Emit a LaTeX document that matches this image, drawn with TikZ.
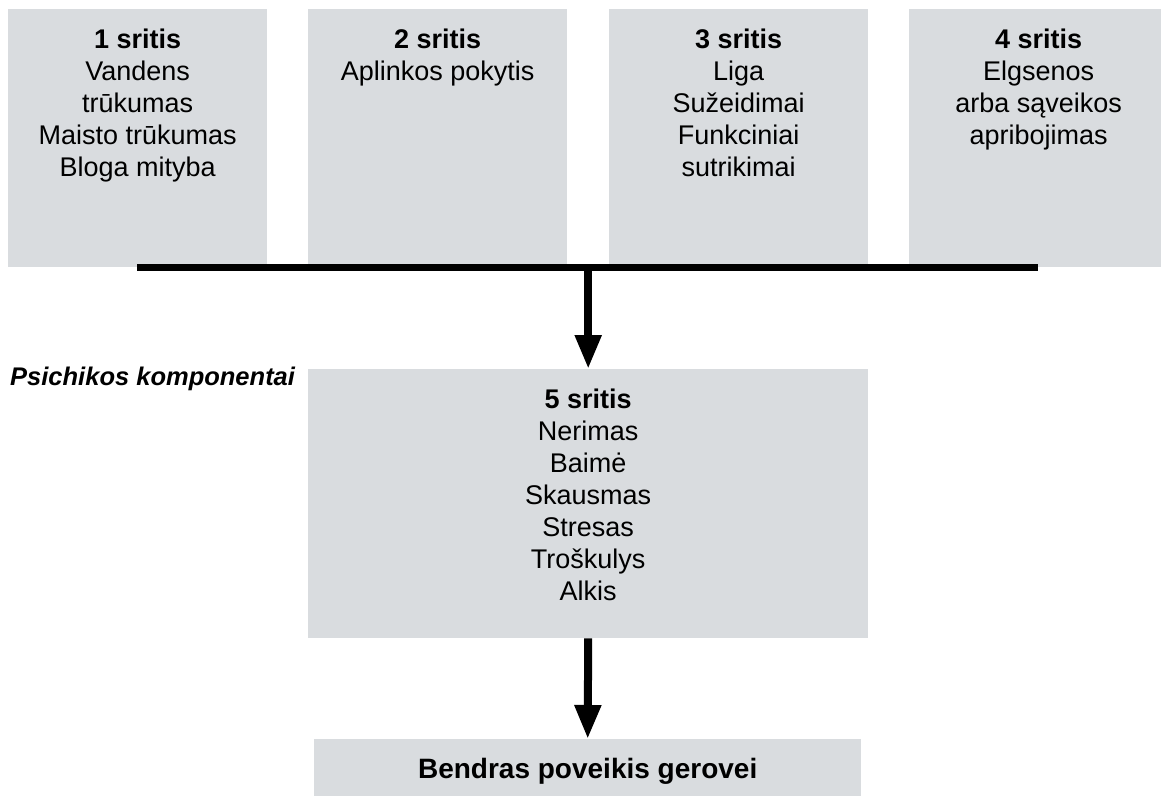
\documentclass[tikz,border=0pt]{standalone}
\usepackage{fontspec}
\setmainfont{Liberation Sans}
\usetikzlibrary{positioning,arrows.meta}
\definecolor{areagray}{RGB}{217,220,223}

\begin{document}
\begin{tikzpicture}[x=1pt,y=-1pt,
        area/.style={fill=areagray, inner sep=0, anchor=north west},
        txt/.style={align=center, inner sep=0, font=\fontsize{27}{32}\selectfont},
        bigarrow/.style={-{Triangle[length=34pt,width=25pt]}, line width=8pt}]

    \useasboundingbox (0,0) rectangle (1161,795);

    % upper areas
    \node[area, minimum width=259pt, minimum height=258pt] (a1) at (8,9) {};
    \node[area, minimum width=259pt, minimum height=258pt] (a2) at (308,9) {};
    \node[area, minimum width=259pt, minimum height=258pt] (a3) at (609,9) {};
    \node[area, minimum width=259pt, minimum height=258pt] (a4) at (909,9) {};

    \node[txt, below=19.5pt of a1.north] (t1) {\textbf{1 sritis}\\Vandens\\trūkumas\\Maisto trūkumas\\Bloga mityba};
    \node[txt, below=19.5pt of a2.north] (t2) {\textbf{2 sritis}\\Aplinkos pokytis};
    \node[txt, below=19.5pt of a3.north] (t3) {\textbf{3 sritis}\\Liga\\Sužeidimai\\Funkciniai\\sutrikimai};
    \node[txt, below=19.5pt of a4.north] (t4) {\textbf{4 sritis}\\Elgsenos\\arba sąveikos\\apribojimas};

    % psychic components
    \node[area, minimum width=560pt, minimum height=269pt] (a5) at (308,369) {};
    \node[txt, below=19.5pt of a5.north] (t5) {\textbf{5 sritis}\\Nerimas\\Baimė\\Skausmas\\Stresas\\Troškulys\\Alkis};
    \node[txt, anchor=base west, font=\fontsize{25.5}{32}\selectfont\bfseries\itshape] (title) at (10,385) {Psichikos komponentai};

    % overall effect
    \node[area, minimum width=547pt, minimum height=70pt] (a6) at (314,739) {};
    \node[txt, below=18.5pt of a6.north, font=\fontsize{28}{32}\selectfont\bfseries] (t6) {Bendras poveikis gerovei};

    % connectors
    \coordinate (barL) at (137,267.5);
    \coordinate (barR) at (1038,267.5);
    \coordinate (barM) at (a5.north |- barL);
    \draw[bigarrow] (barM) -- (a5.north);
    \draw[line width=7pt] (barL) -- (barR);
    \draw[bigarrow] (a5.south) -- (a6.north);

\end{tikzpicture}
\end{document}
